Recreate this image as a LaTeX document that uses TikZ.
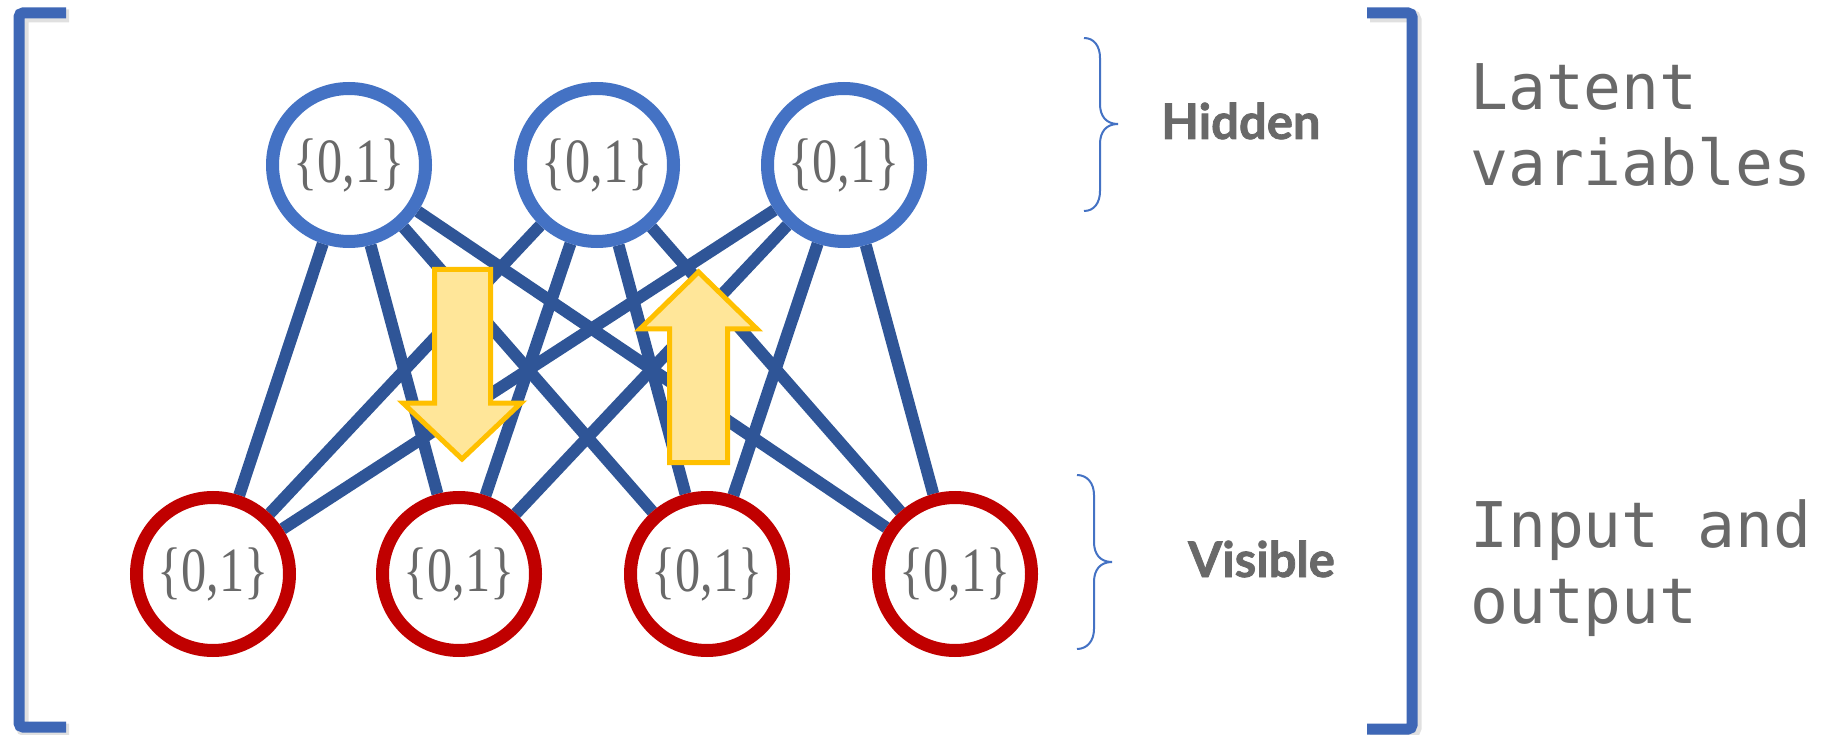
\documentclass[tikz,border=0pt]{standalone}
\usepackage{fontspec}
\usepackage{graphicx}
\newfontfamily\labelfont[BoldFeatures={FakeBold=1.5}]{Lato}
\newfontfamily\notefont{DejaVu Sans Mono}
\newfontfamily\unitfont{Liberation Serif}
\usetikzlibrary{backgrounds}
\definecolor{hidblue}{RGB}{68,114,196}
\definecolor{visred}{RGB}{192,0,0}
\definecolor{edgeblue}{RGB}{47,85,151}
\definecolor{brkblue}{RGB}{62,103,182}
\definecolor{txtgray}{RGB}{105,105,105}
\definecolor{arrfill}{RGB}{255,230,153}
\definecolor{arrline}{RGB}{255,192,0}
\newcommand\bitset{\scalebox{0.8}[1]{\{0,1\}}}

\begin{document}
\begin{tikzpicture}[x=1pt,y=-1pt,
  unit/.style={circle,line width=13pt,minimum size=153pt,inner sep=0pt,
    fill=white,text=txtgray,font=\unitfont\fontsize{63}{66}\selectfont},
  hidunit/.style={unit,draw=hidblue},
  visunit/.style={unit,draw=visred},
  link/.style={draw=edgeblue,line width=12pt},
  flow/.style={fill=arrfill,draw=arrline,line width=5pt,line join=miter},
  bracket/.style={draw=brkblue,line width=11pt,rounded corners=4pt},
  bracketshade/.style={draw=black,line width=13pt,opacity=0.12,rounded corners=4pt},
  brace/.style={draw=hidblue,line width=2pt},
  layer/.style={text=txtgray,font=\labelfont\bfseries\fontsize{49}{52}\selectfont,
    anchor=base west,inner sep=0pt},
  note/.style={text=txtgray,font=\notefont\fontsize{63}{76}\selectfont,
    anchor=base west,inner sep=0pt}]

\useasboundingbox (0,0) rectangle (1826,735);

% hidden layer
\node[hidunit] (h1) at (349,165) {\bitset};
\node[hidunit] (h2) at (597,165) {\bitset};
\node[hidunit] (h3) at (844,165) {\bitset};
% visible layer
\node[visunit] (v1) at (213,574) {\bitset};
\node[visunit] (v2) at (459,574) {\bitset};
\node[visunit] (v3) at (707,574) {\bitset};
\node[visunit] (v4) at (955,574) {\bitset};

% full bipartite connections, behind the units
\begin{pgfonlayer}{background}
  \fill[white] (0,0) rectangle (1826,735);
  \foreach \h in {h1,h2,h3}
    \foreach \v in {v1,v2,v3,v4}
      \draw[link] (\h) -- (\v);
\end{pgfonlayer}

% sampling direction arrows
\draw[flow] (434.5,269.5) -- (490.5,269.5) -- (490.5,403) -- (521,403)
  -- (462,459) -- (403,403) -- (434.5,403) -- cycle;
\draw[flow] (669.5,462.5) -- (727.5,462.5) -- (727.5,329) -- (757,329)
  -- (698.5,272) -- (640,329) -- (669.5,329) -- cycle;

% outer brackets with soft shadow
\draw[bracketshade,xshift=3pt,yshift=-3pt] (66,13) -- (19,13) -- (19,727) -- (66,727);
\draw[bracketshade,xshift=3pt,yshift=-3pt] (1367,13) -- (1412,13) -- (1412,729) -- (1367,729);
\draw[bracket] (66,13) -- (19,13) -- (19,727) -- (66,727);
\draw[bracket] (1367,13) -- (1412,13) -- (1412,729) -- (1367,729);

% layer braces
\draw[brace] (1084,38) .. controls (1094,38) and (1100,46) .. (1100,58) -- (1100,104)
  .. controls (1100,116) and (1106,124) .. (1118,124)
  .. controls (1106,124) and (1100,132) .. (1100,144) -- (1100,191)
  .. controls (1100,203) and (1094,211) .. (1084,211);
\draw[brace] (1077,475) .. controls (1087,475) and (1094,483) .. (1094,495) -- (1094,542)
  .. controls (1094,554) and (1100,562) .. (1112,562)
  .. controls (1100,562) and (1094,570) .. (1094,582) -- (1094,629)
  .. controls (1094,641) and (1087,649) .. (1077,649);

% labels
\node[layer] (hidlab) at (1161,139) {Hidden};
\node[layer] (vislab) at (1188,577) {Visible};
\node[note] (lat1) at (1470,110) {Latent};
\node[note] (lat2) at (1470,186) {variables};
\node[note] (io1) at (1470,547) {Input and};
\node[note] (io2) at (1470,623) {output};
\end{tikzpicture}
\end{document}
